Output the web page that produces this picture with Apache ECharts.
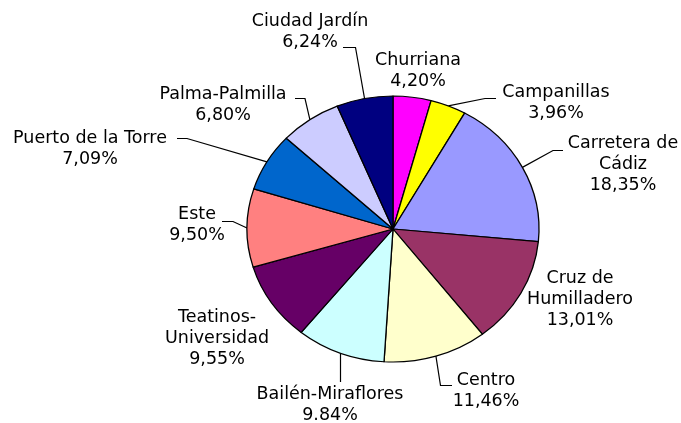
<!DOCTYPE html>
<html><head><meta charset="utf-8">
<script src="https://cdn.jsdelivr.net/npm/echarts@6/dist/echarts.min.js"></script>
<style>html,body{margin:0;padding:0;background:#fff}#c{width:681px;height:423px}</style>
</head><body><div id="c"></div>
<script>
// ---- data (clockwise from 12 o'clock) ----
const categories = ['Churriana','Campanillas','Carretera de\nCádiz','Cruz de\nHumilladero','Centro','Bailén-Miraflores','Teatinos-\nUniversidad','Este','Puerto de la Torre','Palma-Palmilla','Ciudad Jardín'];
const shares = [4.20, 3.96, 18.35, 13.01, 11.46, 9.84, 9.55, 9.50, 7.09, 6.80, 6.24];
const shareLabels = ['4,20%','3,96%','18,35%','13,01%','11,46%','9.84%','9,55%','9,50%','7,09%','6,80%','6,24%'];
const colors = ['#FF00FF','#FFFF00','#9999FF','#993366','#FFFFCC','#CCFFFF','#660066','#FF8080','#0066CC','#CCCCFF','#000080'];

// ---- layout (positions only) ----
const CX = 393, CY = 229, RX = 146, RY = 133;
const labelBox = [[418,70.5],[556,102.5],[623,164.5],[580,299],[486,390.5],[330,405],[217,338],[197,225],[90,149],[223,105],[310,32]];
const leader = [null, [[485,98.5],[496,98.5]], [[553,150.5],[563,150.5]], null, [[440.5,385.5],[452,385.5]], [[null,382]], null, [[233,221.5],[222,221.5]], [[187,138.5],[177,138.5]], [[305,98.5],[295,98.5]], [[355.5,47.5],[343,47.5]]];

const chart = echarts.init(document.getElementById('c'), null, {renderer: 'canvas'});
const textStyle = {fontFamily: 'DejaVu Sans', fontSize: 17.5, color: '#000', lineHeight: 21};

const option = {
  animation: false,
  backgroundColor: '#fff',
  series: [
    {
      type: 'pie', center: [CX, CY], radius: RX, startAngle: 90, clockwise: true,
      silent: true, emphasis: {disabled: true},
      label: {show: false}, labelLine: {show: false},
      itemStyle: {borderColor: '#000', borderWidth: 1.3},
      data: categories.map((c, i) => ({name: c, value: shares[i], itemStyle: {color: colors[i]}}))
    },
    {
      type: 'pie', center: [CX, CY], radius: RX, startAngle: 90, clockwise: true,
      silent: true, emphasis: {disabled: true}, avoidLabelOverlap: false,
      itemStyle: {color: 'rgba(0,0,0,0)', borderWidth: 0},
      label: Object.assign({show: true, position: 'outside', align: 'center',
        formatter: p => categories[p.dataIndex] + '\n' + shareLabels[p.dataIndex]}, textStyle),
      labelLine: {show: true, smooth: false, lineStyle: {color: '#000', width: 1.2}},
      labelLayout: function (p) {
        const i = p.dataIndex;
        const res = {x: labelBox[i][0], y: labelBox[i][1], align: 'center', verticalAlign: 'middle'};
        if (leader[i] && p.labelLinePoints && p.labelLinePoints.length) {
          const s = p.labelLinePoints[0];
          const s2 = [s[0], CY + (s[1] - CY) * RY / RX];
          res.labelLinePoints = [s2].concat(leader[i].map(q => [q[0] == null ? Math.round(s2[0]) + 0.5 : q[0], q[1]]));
          if (leader[i][0][0] == null) res.labelLinePoints[0][0] = Math.round(s2[0]) + 0.5;
        }
        return res;
      },
      data: categories.map((c, i) => ({name: c, value: shares[i], labelLine: {show: leader[i] != null}}))
    }
  ]
};
chart.setOption(option);

try {
  const sm = chart.getModel().getSeriesByIndex(0);
  const view = chart.getViewOfSeriesModel ? chart.getViewOfSeriesModel(sm) : chart._chartsMap[sm.__viewId];
  const g = view.group;
  g.originX = CX; g.originY = CY; g.scaleY = RY / RX;
  g.traverse(el => { el.strokeNoScale = true; if (el.markRedraw) el.markRedraw(); });
  if (g.markRedraw) g.markRedraw();
  chart.getZr().refreshImmediately();
} catch (e) { console.error(e); }
</script>
</body></html>
